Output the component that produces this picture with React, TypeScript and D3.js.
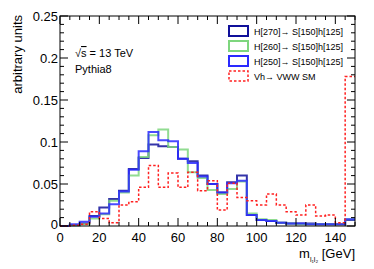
import * as d3 from 'd3';

const binEdges = d3.range(0, 150, 5);

const h270 = [0, 0.001, 0.003, 0.012, 0.022, 0.032, 0.042, 0.068, 0.081, 0.097, 0.095, 0.094, 0.080, 0.077, 0.060, 0.050, 0.040, 0.052, 0.060, 0.013, 0.007, 0.006, 0.004, 0.003, 0.003, 0.003, 0.002, 0.002, 0.002, 0.007];
const h260 = [0, 0.001, 0.002, 0.009, 0.014, 0.030, 0.040, 0.060, 0.082, 0.108, 0.115, 0.094, 0.091, 0.064, 0.057, 0.043, 0.038, 0.044, 0.053, 0.015, 0.008, 0.007, 0.004, 0.003, 0.002, 0.002, 0.002, 0.002, 0.002, 0.008];
const h250 = [0, 0.002, 0.005, 0.011, 0.015, 0.026, 0.041, 0.067, 0.089, 0.112, 0.102, 0.101, 0.080, 0.075, 0.059, 0.050, 0.040, 0.051, 0.054, 0.013, 0.007, 0.006, 0.004, 0.003, 0.003, 0.002, 0.002, 0.002, 0.002, 0.008];
const vhSM = [0, 0.001, 0.002, 0.017, 0.009, 0.004, 0.025, 0.029, 0.046, 0.072, 0.046, 0.063, 0.046, 0.064, 0.042, 0.054, 0.019, 0.051, 0.034, 0.030, 0.025, 0.038, 0.025, 0.017, 0.013, 0.025, 0.012, 0.013, 0.004, 0.178];

const yTicks = [0, 0.05, 0.1, 0.15, 0.2, 0.25];
const yTickLabels = ['0', '0.05', '0.1', '0.15', '0.2', '0.25'];
const xTicks = [0, 20, 40, 60, 80, 100, 120, 140];

const series = [
  { name: 'H[270]\u2192 S[150]h[125]', values: h270, color: '#10109a', width: 2, dash: '' },
  { name: 'H[260]\u2192 S[150]h[125]', values: h260, color: '#7ed67e', width: 2, dash: '' },
  { name: 'H[250]\u2192 S[150]h[125]', values: h250, color: '#2a2aff', width: 2, dash: '' },
  { name: 'Vh\u2192 VWW SM', values: vhSM, color: '#ff2020', width: 1.5, dash: '2.5,2' },
];

export default function App() {
  const width = 374;
  const height = 269;
  const margin = { top: 16, right: 19, bottom: 43, left: 60 };
  const x = d3.scaleLinear().domain([0, 150]).range([margin.left, width - margin.right]);
  const y = d3.scaleLinear().domain([0, 0.25]).range([height - margin.bottom, margin.top]);

  const line = d3.line<[number, number]>()
    .x(d => x(d[0]))
    .y(d => y(d[1]))
    .curve(d3.curveStepAfter);

  const pathFor = (vals: number[]) => {
    const pts: [number, number][] = binEdges.map((e, i) => [e, vals[i]]);
    pts.push([150, vals[vals.length - 1]]);
    return line(pts) || '';
  };

  const x0 = x(0), x1 = x(150), y0 = y(0), y1 = y(0.25);
  const xMinor = d3.range(0, 151, 5);
  const yMinor = d3.range(0, 0.2501, 0.01);
  const font = 'Liberation Sans, Arial, Helvetica, sans-serif';

  return (
    <svg width={width} height={height} style={{ position: 'absolute', left: 0, top: 0, background: '#fff' }} fontFamily={font}>
      <rect x={0} y={0} width={width} height={height} fill="#fff" />
      {series.map(s => (
        <path key={s.name} d={pathFor(s.values)} fill="none" stroke={s.color} strokeWidth={s.width}
          strokeDasharray={s.dash || undefined} strokeOpacity={s.dash ? 1 : 0.85} />
      ))}
      {/* frame */}
      <rect x={x0} y={y1} width={x1 - x0} height={y0 - y1} fill="none" stroke="#000" strokeWidth={1} />
      {/* x ticks */}
      {xMinor.map(v => {
        const major = v % 20 === 0;
        const len = major ? 8 : 4;
        return (
          <g key={'xt' + v}>
            <line x1={x(v)} x2={x(v)} y1={y0} y2={y0 - len} stroke="#000" />
            <line x1={x(v)} x2={x(v)} y1={y1} y2={y1 + len} stroke="#000" />
          </g>
        );
      })}
      {yMinor.map((v, i) => {
        const major = i % 5 === 0;
        const len = major ? 8 : 4;
        return (
          <g key={'yt' + i}>
            <line x1={x0} x2={x0 + len} y1={y(v)} y2={y(v)} stroke="#000" />
            <line x1={x1} x2={x1 - len} y1={y(v)} y2={y(v)} stroke="#000" />
          </g>
        );
      })}
      {xTicks.map(v => (
        <text key={'xl' + v} x={x(v)} y={y0 + 16} fontSize={13} textAnchor="middle" fill="#000">{v}</text>
      ))}
      {yTicks.map((v, i) => (
        <text key={'yl' + v} x={x0 - 2} y={y(v) + 5 - (i === 0 ? 2 : 0)} fontSize={13} textAnchor="end" fill="#000">{yTickLabels[i]}</text>
      ))}
      {/* axis titles */}
      <text transform={`translate(22,${y1 - 1}) rotate(-90)`} fontSize={13} textAnchor="end" fill="#000">arbitrary units</text>
      <text x={x1} y={258} fontSize={13} textAnchor="end" fill="#000">
        m<tspan fontSize={7} dy={4}>l₁l₂</tspan><tspan dy={-4}> [GeV]</tspan>
      </text>
      {/* annotations */}
      <text x={75} y={57} fontSize={11} fill="#000">
        <tspan>√</tspan><tspan textDecoration="overline">s</tspan><tspan> = 13 TeV</tspan>
      </text>
      <text x={75} y={73} fontSize={11} fill="#000">Pythia8</text>
      {/* legend */}
      {series.map((s, i) => {
        const cy = 31 + i * 15;
        return (
          <g key={'lg' + i}>
            <rect x={229} y={cy - 5} width={19} height={10} fill="none" stroke={s.color} strokeWidth={s.width}
              strokeDasharray={s.dash || undefined} />
            <text x={254} y={cy + 3.5} fontSize={9} fill="#000">{s.name}</text>
          </g>
        );
      })}
    </svg>
  );
}
